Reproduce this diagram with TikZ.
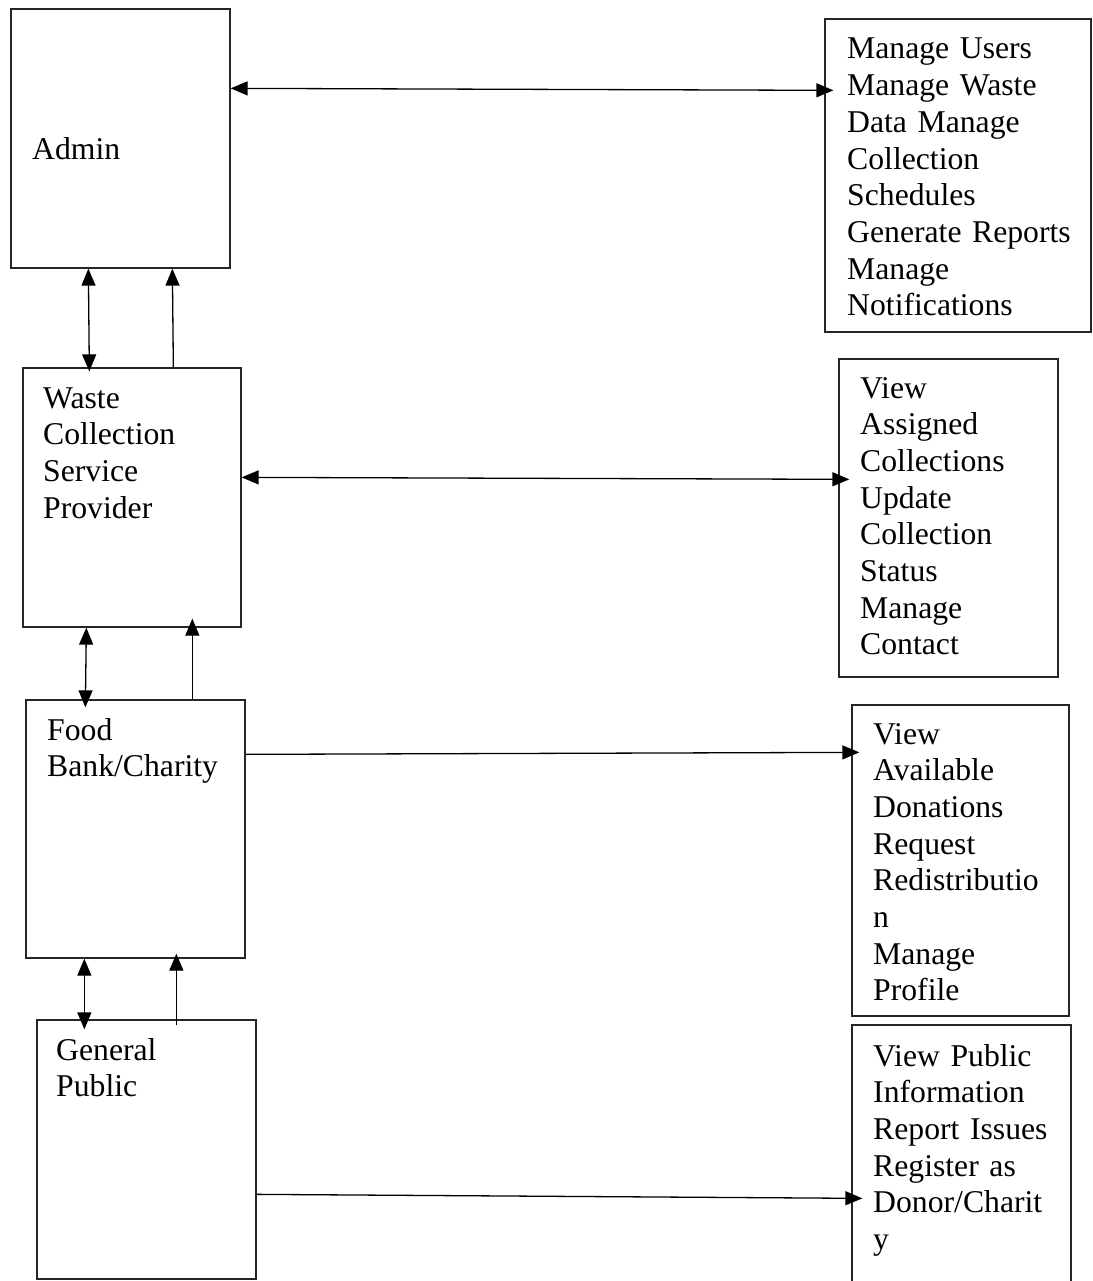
\documentclass[tikz,border=0pt]{standalone}
\usepackage{fontspec}
\setmainfont{Liberation Serif}
\usetikzlibrary{arrows.meta}
\tikzset{
  box/.style={draw=black!85, line width=1.3pt, rectangle, inner sep=0pt},
  lbl/.style={inner sep=0pt, anchor=base west, align=left, text width=245pt,
    font=\fontsize{31.7pt}{36.7pt}\selectfont},
  con/.style={line width=1.3pt, draw=black},
  one/.style={con, -{Triangle[length=17pt,width=14pt]}},
  two/.style={con, {Triangle[length=17pt,width=14pt]}-{Triangle[length=17pt,width=14pt]}}
}
\begin{document}
\begin{tikzpicture}[x=1pt,y=-1pt]
\useasboundingbox (0,0) rectangle (1092,1281);
\clip (0,0) rectangle (1092,1281);
\fill[white] (0,0) rectangle (1092,1281);
% boxes
\node[box, minimum width=219pt, minimum height=259pt] (admin) at (120.5,138.5) {};
\node[box, minimum width=266pt, minimum height=313pt] (r1) at (958,175.5) {};
\node[box, minimum width=218pt, minimum height=259pt] (waste) at (132,497.5) {};
\node[box, minimum width=219pt, minimum height=318pt] (r2) at (948.5,518) {};
\node[box, minimum width=219pt, minimum height=258pt] (food) at (135.5,829) {};
\node[box, minimum width=217pt, minimum height=311pt] (r3) at (960.5,860.5) {};
\node[box, minimum width=219pt, minimum height=259pt] (gen) at (146.5,1149.5) {};
\node[box, minimum width=219pt, minimum height=275pt] (r4) at (961.5,1162.5) {};
% texts
\node[lbl] (tadmin) at (32,160) {Admin};
\node[lbl] (tr1) at (847,59) {Manage Users\\Manage Waste\\Data Manage\\Collection\\Schedules\\Generate Reports\\Manage\\Notifications};
\node[lbl] (twaste) at (43,408) {Waste\\Collection\\Service\\Provider};
\node[lbl] (tr2) at (860,398) {View\\Assigned\\Collections\\Update\\Collection\\Status\\Manage\\Contact};
\node[lbl] (tfood) at (47,740) {Food\\Bank/Charity};
\node[lbl] (tr3) at (873,744) {View\\Available\\Donations\\Request\\Redistributio\\n\\Manage\\Profile};
\node[lbl] (tgen) at (56,1060) {General\\Public};
\node[lbl] (tr4) at (873,1066) {View Public\\Information\\Report Issues\\Register as\\Donor/Charit\\y};
% connectors
\draw[two] ([yshift=-80pt]admin.north east) -- ([xshift=9pt,yshift=-72pt]r1.north west);
\draw[two] ([xshift=78pt]admin.south west) -- ([xshift=67pt,yshift=-4pt]waste.north west);
\draw[one] ([xshift=151pt]waste.north west) -- ([xshift=162pt]admin.south west);
\draw[two] ([yshift=-110pt]waste.north east) -- ([xshift=11pt,yshift=-121pt]r2.north west);
\draw[two] ([xshift=64pt]waste.south west) -- ([xshift=60pt,yshift=-8pt]food.north west);
\draw[one] ([xshift=167pt]food.north west) -- ([xshift=170pt,yshift=9pt]waste.south west);
\draw[one] ([yshift=-55pt]food.north east) -- ([xshift=8pt,yshift=-48pt]r3.north west);
\draw[two] ([xshift=59pt]food.south west) -- ([xshift=48pt,yshift=-10pt]gen.north west);
\draw[one] ([xshift=140pt,yshift=-6pt]gen.north west) -- ([xshift=151pt,yshift=5pt]food.south west);
\draw[one] ([yshift=-175pt]gen.north east) -- ([xshift=11pt,yshift=-174pt]r4.north west);
\end{tikzpicture}
\end{document}
